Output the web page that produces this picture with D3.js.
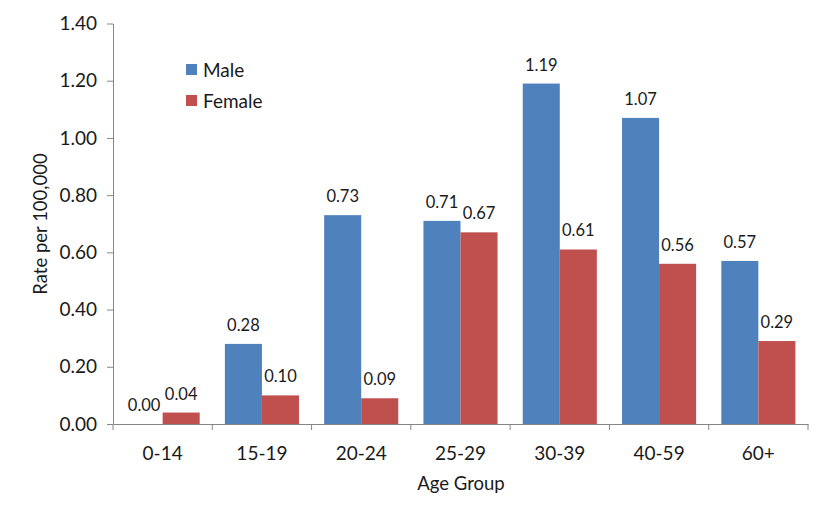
<!DOCTYPE html>
<html><head><meta charset="utf-8">
<script src="https://cdn.jsdelivr.net/npm/d3@7/dist/d3.min.js"></script>
<style>body{margin:0;background:#fff}svg{display:block}text{font-family:Lato,"Open Sans",sans-serif;fill:#1a1a1a}</style>
</head><body><svg id="c" width="832" height="521"></svg>
<script>
const categories=["0-14","15-19","20-24","25-29","30-39","40-59","60+"];
const male=[0.00,0.28,0.73,0.71,1.19,1.07,0.57];
const female=[0.04,0.10,0.09,0.67,0.61,0.56,0.29];
const yTicks=[0,0.2,0.4,0.6,0.8,1.0,1.2,1.4];
const seriesNames=["Male","Female"];
const colors=["#4f81bd","#c0504d"];

const svg=d3.select("#c");
const L=113,R=808,T=23.5,B=424;
const x=d3.scaleBand().domain(categories).range([L,R]).padding(0);
const y=d3.scaleLinear().domain([0,1.4]).range([B,T]);
const inner=d3.scaleBand().domain(seriesNames).range([0,x.bandwidth()]).paddingOuter(0.34).paddingInner(0);

const axisColor="#868686";
const ya=svg.append("g").attr("transform",`translate(${L},0)`).call(d3.axisLeft(y).tickValues(yTicks).tickFormat(d3.format(".2f")).tickSize(6).tickSizeOuter(0));
ya.select(".domain").attr("stroke",axisColor);
ya.selectAll(".tick line").attr("stroke",axisColor);
ya.selectAll(".tick text").attr("x",-16).style("font-size","19px").style("font-family","Lato").attr("fill","#1a1a1a");
const xa=svg.append("g").attr("transform",`translate(0,${B})`).call(d3.axisBottom(x).tickSize(0).tickSizeOuter(0));
xa.select(".domain").attr("stroke",axisColor);
xa.selectAll(".tick text").attr("dy",0).attr("y",36).style("font-size","19px").style("font-family","Lato").attr("fill","#1a1a1a");
const edges=categories.map(c=>x(c)).concat([R]);
svg.append("g").selectAll("line").data(edges).join("line")
  .attr("x1",d=>d).attr("x2",d=>d).attr("y1",B).attr("y2",B+6).attr("stroke",axisColor);

const series=[male,female];
series.forEach((vals,si)=>{
  const g=svg.append("g");
  g.selectAll("rect").data(vals).join("rect")
    .attr("x",(d,i)=>x(categories[i])+inner(seriesNames[si]))
    .attr("width",inner.bandwidth())
    .attr("y",d=>y(d)).attr("height",d=>B-y(d))
    .attr("fill",colors[si]);
  g.selectAll("text").data(vals).join("text")
    .attr("x",(d,i)=>x(categories[i])+inner(seriesNames[si])+inner.bandwidth()/2)
    .attr("y",d=>y(d)-13)
    .attr("text-anchor","middle").style("font-size","16.5px").text(d=>d3.format(".2f")(d));
});

svg.append("text").attr("transform","translate(47,224) rotate(-90)").attr("text-anchor","middle").style("font-size","18.5px").text("Rate per 100,000");
svg.append("text").attr("x",461).attr("y",490).attr("text-anchor","middle").style("font-size","18.5px").text("Age Group");

const lg=svg.append("g");
seriesNames.forEach((n,i)=>{
  lg.append("rect").attr("x",186).attr("y",64+i*31).attr("width",11).attr("height",11).attr("fill",colors[i]);
  lg.append("text").attr("x",203).attr("y",77+i*31).style("font-size","19px").text(n);
});
</script></body></html>
